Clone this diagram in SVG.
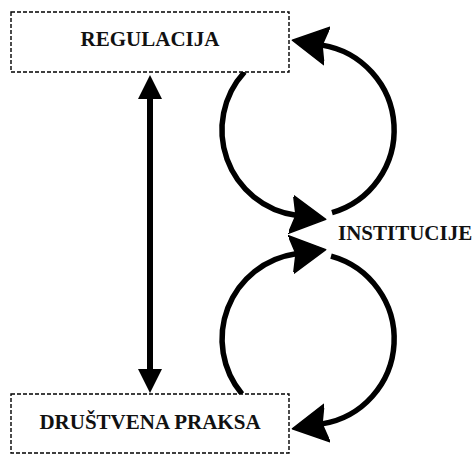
<svg xmlns="http://www.w3.org/2000/svg" width="475" height="455" viewBox="0 0 475 455">
  <style>
    .box { fill: #ffffff; stroke: #000000; stroke-width: 1.4; stroke-dasharray: 4 2; }
    .label { font-family: "Liberation Serif", "Times New Roman", serif; font-weight: bold; font-size: 21px; fill: #111111; }
    .loop { fill: none; stroke: #000000; stroke-width: 5.5; }
    .link { fill: none; stroke: #000000; stroke-width: 6; }
  </style>
  <defs>
    <!-- dart-shaped head for the loop arcs; the line ends in the notch -->
    <marker id="dart" markerUnits="userSpaceOnUse" markerWidth="36" markerHeight="42" viewBox="0 0 36 42" refX="5" refY="21" orient="auto">
      <path d="M0,2 L35,21 L0,40 L5,21 Z" fill="#000000" stroke="#000000" stroke-width="1.5" stroke-linejoin="round"/>
    </marker>
    <!-- plain triangular head for the vertical link -->
    <marker id="tri" markerUnits="userSpaceOnUse" markerWidth="24" markerHeight="24" viewBox="0 0 24 24" refX="2" refY="12" orient="auto-start-reverse">
      <path d="M0,0 L24,12 L0,24 Z" fill="#000000"/>
    </marker>
  </defs>
  <rect width="475" height="455" fill="#ffffff"/>

  <g id="connectors">
    <!-- two-way link between the boxes -->
    <line class="link" x1="150" y1="97" x2="150" y2="371" marker-start="url(#tri)" marker-end="url(#tri)"/>
    <!-- upper loop -->
    <path class="loop" d="M244.5,72 A86,86 0 0 0 296,215.2" marker-end="url(#dart)"/>
    <path class="loop" d="M332,212.6 A86,86 0 0 0 322,45.1" marker-end="url(#dart)"/>
    <!-- lower loop -->
    <path class="loop" d="M242,394 A86,86 0 0 1 296,253.8" marker-end="url(#dart)"/>
    <path class="loop" d="M331,256.1 A86,86 0 0 1 322,423.9" marker-end="url(#dart)"/>
  </g>

  <g id="regulacija">
    <rect class="box" x="11" y="12" width="278" height="60"/>
    <text class="label" x="150" y="46" text-anchor="middle">REGULACIJA</text>
  </g>

  <g id="drustvena-praksa">
    <rect class="box" x="11" y="394" width="278" height="59"/>
    <text class="label" x="150" y="429" text-anchor="middle">DRUŠTVENA PRAKSA</text>
  </g>

  <g id="institucije">
    <text class="label" x="338" y="240">INSTITUCIJE</text>
  </g>
</svg>
